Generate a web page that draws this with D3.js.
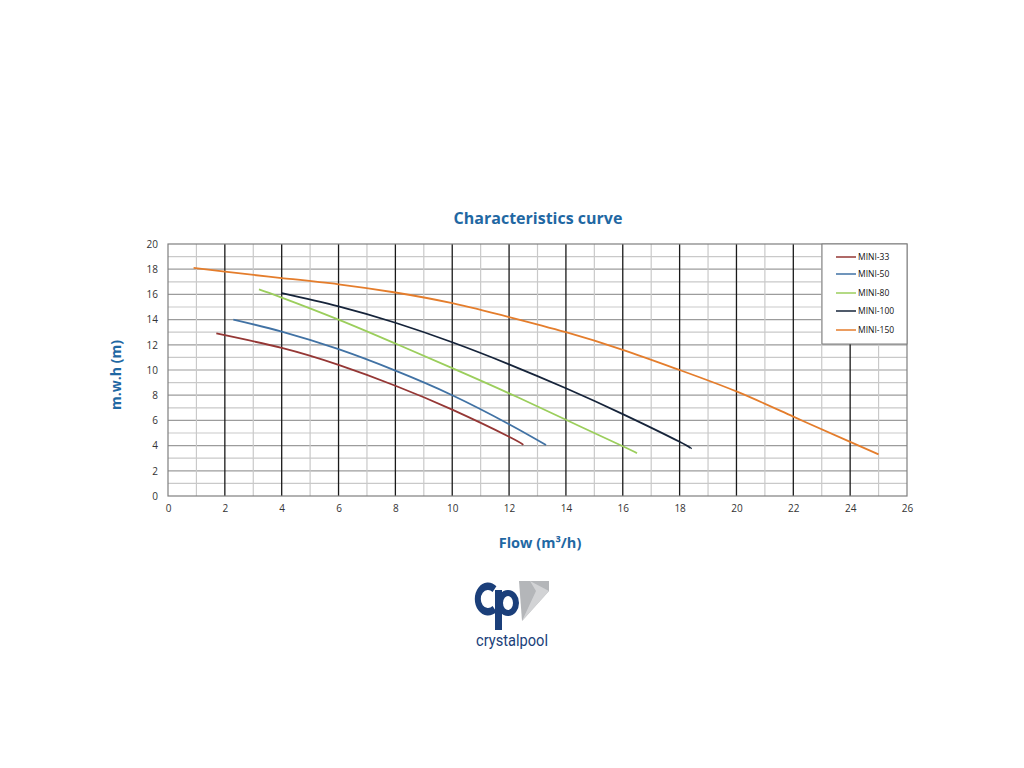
<!DOCTYPE html>
<html lang="en">
<head>
<meta charset="utf-8">
<title>Characteristics curve</title>
<script src="https://cdn.jsdelivr.net/npm/d3@7"></script>
<style>
body {
	margin: 0;
	background: #fff;
	font-family: "Open Sans", "Noto Sans", sans-serif;
}
</style>
</head>
<body>
<div id="chart"></div>
<script>
// data: [flow m3/h, head m]
const seriesNames = ["MINI-33", "MINI-50", "MINI-80", "MINI-100", "MINI-150"];
const seriesColors = ["#953735", "#4172a4", "#9bce5c", "#16243a", "#e47d2c"];
const mini33 = [[1.7, 12.9], [4, 11.75], [6, 10.4], [8, 8.75], [10, 6.85], [12, 4.7], [12.5, 4.05]];
const mini50 = [[2.3, 14], [4, 13.05], [6, 11.65], [8, 9.95], [10, 8.0], [12, 5.7], [13.3, 4.05]];
const mini80 = [[3.2, 16.4], [4, 15.75], [6, 14], [8, 12.1], [10, 10.15], [12, 8.15], [14, 6.05], [16, 3.95], [16.5, 3.4]];
const mini100 = [[4, 16.1], [6, 15.05], [8, 13.75], [10, 12.2], [12, 10.45], [14, 8.55], [16, 6.5], [18, 4.3], [18.4, 3.75]];
const mini150 = [[0.9, 18.1], [2, 17.8], [4, 17.3], [6, 16.8], [8, 16.15], [10, 15.3], [12, 14.2], [14, 13], [16, 11.6], [18, 10], [20, 8.3], [22, 6.3], [24, 4.3], [25, 3.3]];
const seriesData = [mini33, mini50, mini80, mini100, mini150];
const xTicks = d3.range(0, 27, 2);
const yTicks = d3.range(0, 21, 2);

const margin = { top: 244, left: 168 };
const width = 739;
const height = 252;

const svg = d3.select("#chart").append("svg")
	.attr("width", 1024)
	.attr("height", 768);

const g = svg.append("g")
	.attr("transform", `translate(${margin.left}, ${margin.top})`);

const x = d3.scaleLinear().domain([0, 26]).range([0, width]);
const y = d3.scaleLinear().domain([0, 20]).range([height, 0]);

// horizontal grid, every 1 m, darker on even values
g.append("g")
	.selectAll("line")
	.data(d3.range(1, 20))
	.join("line")
		.attr("x1", 0).attr("x2", width)
		.attr("y1", d => y(d)).attr("y2", d => y(d))
		.attr("stroke", d => d % 2 ? "#c9c9c9" : "#9c9c9c")
		.attr("stroke-width", 1.2);

// vertical grid, every 1, black on even values
g.append("g")
	.selectAll("line")
	.data(d3.range(1, 26))
	.join("line")
		.attr("x1", d => x(d)).attr("x2", d => x(d))
		.attr("y1", 0).attr("y2", height)
		.attr("stroke", d => d % 2 ? "#c9c9c9" : "#1a1a1a")
		.attr("stroke-width", d => d % 2 ? 1.2 : 1.3);

g.append("rect")
	.attr("width", width).attr("height", height)
	.attr("fill", "none")
	.attr("stroke", "#7f7f7f")
	.attr("stroke-width", 1.2);

// axes
const xAxis = g.append("g")
	.attr("transform", `translate(0, ${height})`)
	.call(d3.axisBottom(x).tickValues(xTicks).tickSize(0).tickPadding(9));
const yAxis = g.append("g")
	.call(d3.axisLeft(y).tickValues(yTicks).tickSize(0).tickPadding(10));
[xAxis, yAxis].forEach(a => {
	a.select(".domain").remove();
	a.selectAll("text")
		.attr("font-family", "'Open Sans', sans-serif")
		.attr("font-size", 10)
		.attr("fill", "#333");
});

// curves
const line = d3.line()
	.x(d => x(d[0]))
	.y(d => y(d[1]))
	.curve(d3.curveNatural);

g.append("g")
	.selectAll("path")
	.data(seriesData)
	.join("path")
		.attr("fill", "none")
		.attr("stroke", (d, i) => seriesColors[i])
		.attr("stroke-width", 1.8)
		.attr("d", line);

// legend
const legend = g.append("g")
	.attr("transform", `translate(${width - 85}, 0)`);
legend.append("rect")
	.attr("width", 85).attr("height", 100)
	.attr("fill", "#fff")
	.attr("stroke", "#7f7f7f")
	.attr("stroke-width", 1);
const legendY = [13, 30, 49, 67, 86];
const item = legend.selectAll("g.item")
	.data(seriesNames)
	.join("g")
		.attr("class", "item")
		.attr("transform", (d, i) => `translate(0, ${legendY[i]})`);
item.append("line")
	.attr("x1", 14).attr("x2", 34)
	.attr("stroke", (d, i) => seriesColors[i])
	.attr("stroke-width", 1.5);
item.append("text")
	.attr("x", 36).attr("dy", "0.35em")
	.attr("font-size", 8.5)
	.attr("fill", "#111")
	.text(d => d);

// titles
const blue = "#1f68a3";
svg.append("text")
	.attr("x", 538).attr("y", 224)
	.attr("text-anchor", "middle")
	.attr("font-size", 16).attr("font-weight", "bold")
	.attr("fill", blue)
	.text("Characteristics curve");
svg.append("text")
	.attr("x", 540).attr("y", 548)
	.attr("text-anchor", "middle")
	.attr("font-size", 14.5).attr("font-weight", "bold")
	.attr("fill", blue)
	.text("Flow (m³/h)");
svg.append("text")
	.attr("transform", "translate(121, 375) rotate(-90)")
	.attr("text-anchor", "middle")
	.attr("font-size", 14).attr("font-weight", "bold")
	.attr("fill", blue)
	.text("m.w.h (m)");

// crystalpool logo
const logo = svg.append("g");
const navy = "#1b3f7a";
logo.append("polygon")
	.attr("points", "519,581 549,581 549,591 522,621")
	.attr("fill", "#b4b6b9");
logo.append("polygon")
	.attr("points", "530,581 549,591 522,621 536,591")
	.attr("fill", "#d2d3d5");
logo.append("path")
	.attr("d", d3.arc()({ innerRadius: 9, outerRadius: 16.5, startAngle: Math.PI * 0.78, endAngle: Math.PI * 2.22 }))
	.attr("transform", "translate(488, 599) scale(0.8, 1)")
	.attr("fill", navy);
logo.append("rect")
	.attr("x", 495).attr("y", 590).attr("width", 7).attr("height", 40)
	.attr("fill", navy);
logo.append("ellipse")
	.attr("cx", 508).attr("cy", 603).attr("rx", 8).attr("ry", 10)
	.attr("fill", "none")
	.attr("stroke", navy)
	.attr("stroke-width", 6);
logo.append("text")
	.attr("x", 476).attr("y", 646)
	.attr("textLength", 72)
	.attr("lengthAdjust", "spacingAndGlyphs")
	.attr("font-family", "'Roboto', sans-serif")
	.attr("font-size", 17)
	.attr("fill", navy)
	.text("crystalpool");
</script>
</body>
</html>
